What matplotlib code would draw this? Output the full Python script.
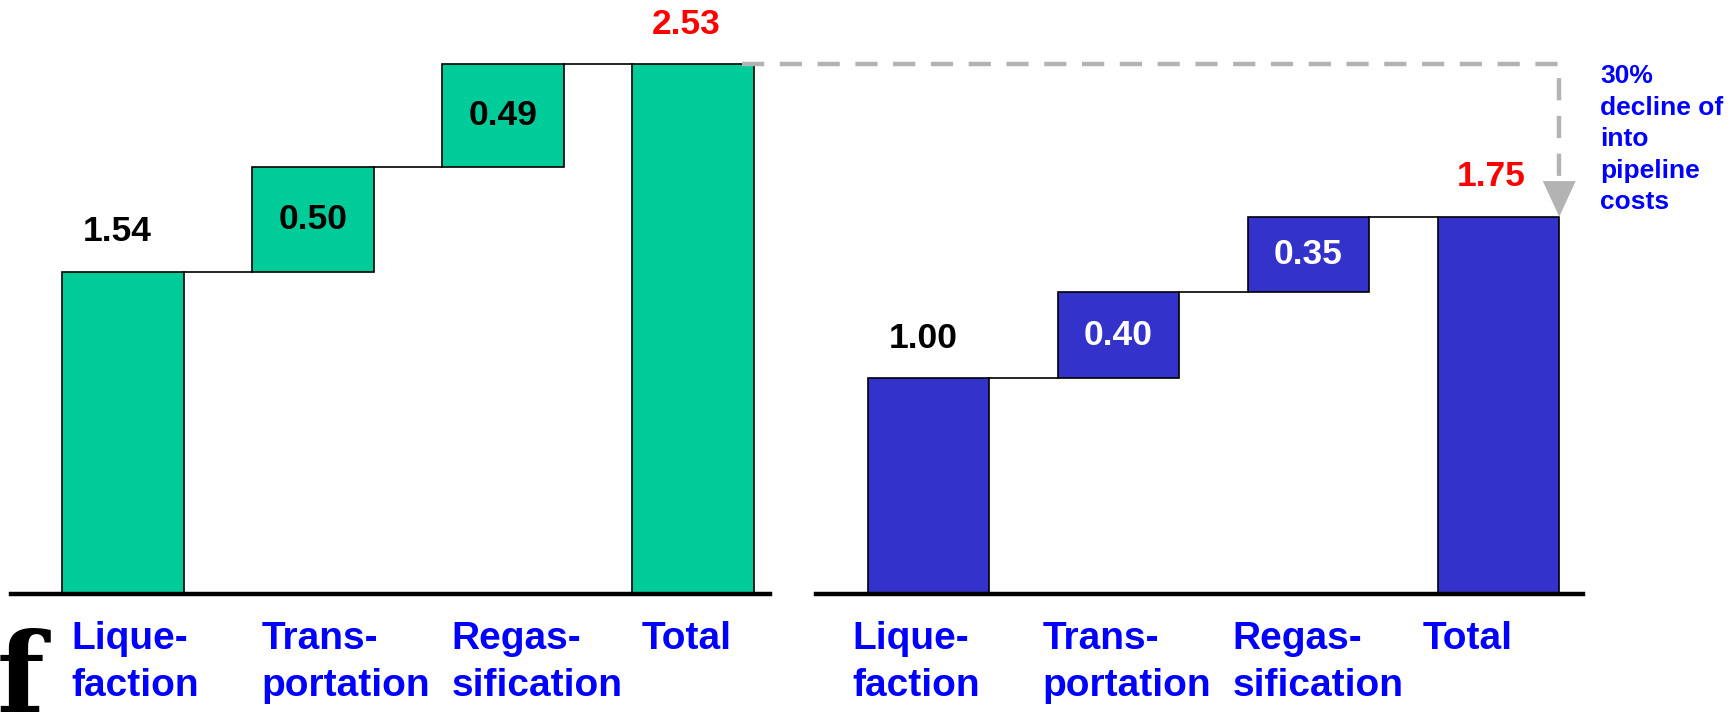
import matplotlib
matplotlib.use("Agg")
import matplotlib.pyplot as plt
from matplotlib.transforms import blended_transform_factory
from matplotlib.lines import Line2D

plt.rcParams['font.family'] = ['Liberation Sans', 'DejaVu Sans']
plt.rcParams['font.weight'] = 'bold'

# data
categories = ["Lique-\nfaction", "Trans-\nportation", "Regas-\nsification", "Total"]
lng_steps = [1.54, 0.50, 0.49]
lng_total = 2.53
pipe_steps = [1.00, 0.40, 0.35]
pipe_total = 1.75
note_text = "30%\ndecline of\ninto\npipeline\ncosts"

GREEN = "#00CC99"
BLUE = "#3333CC"
LABEL_BLUE = "#0000FF"
W = 0.64

fig = plt.figure(figsize=(17.3, 7.12), dpi=100)
FW, FH = 1730, 712


def add_panel(rect, ylim_top, steps, total, color, inner_color, xlim, label_off):
    ax = fig.add_axes(rect)
    ax.set_xlim(*xlim)
    ax.set_ylim(0, ylim_top)
    ax.axis('off')

    bottoms = [0]
    for v in steps[:-1]:
        bottoms.append(bottoms[-1] + v)
    xs = list(range(len(steps)))
    ax.bar(xs, steps, bottom=bottoms, width=W, color=color,
           edgecolor='black', linewidth=1.2, zorder=2)
    ax.bar([len(steps)], [total], width=W, color=color,
           edgecolor='black', linewidth=1.2, zorder=2)

    # connectors between steps
    tops = [b + v for b, v in zip(bottoms, steps)]
    for i, t in enumerate(tops):
        ax.plot([i + W / 2, i + 1 - W / 2], [t, t], color='black', lw=1.2, zorder=1)

    # value labels
    ax.annotate(f"{steps[0]:.2f}", (0, steps[0]), xytext=(-4, 29),
                textcoords='offset points', ha='center', va='center',
                fontsize=25.5, fontweight='bold', color='black')
    for i in range(1, len(steps)):
        ax.text(i, bottoms[i] + steps[i] / 2, f"{steps[i]:.2f}", ha='center',
                va='center', fontsize=25.5, fontweight='bold', color=inner_color, zorder=3)
    ax.annotate(f"{total:.2f}", (len(steps), total), xytext=(-5, 29),
                textcoords='offset points', ha='center', va='center',
                fontsize=25.5, fontweight='bold', color='#FF0000')

    # baseline
    ax.axhline(0, color='black', lw=3.2, zorder=4, clip_on=False)

    # category labels
    tr = blended_transform_factory(ax.transData, ax.transAxes)
    for i, lab in enumerate(categories):
        ax.text(i + label_off, -0.045, lab, transform=tr, ha='left', va='top',
                fontsize=28, fontweight='bold', color=LABEL_BLUE, linespacing=1.42)
    return ax


ax1 = add_panel([11 / FW, 118 / FH, 759 / FW, 594 / FH], 594 / 209.3,
                lng_steps, lng_total, GREEN, 'black', (-0.59, 3.405), -0.27)
ax2 = add_panel([816 / FW, 118 / FH, 767 / FW, 594 / FH], 594 / 215.6,
                pipe_steps, pipe_total, BLUE, 'white', (-0.592, 3.445), -0.40)

# dashed arrow from left total down to right total
inv = fig.transFigure.inverted()
n = len(lng_steps)
p0 = inv.transform(ax1.transData.transform((n + W / 2 - 0.06, lng_total)))
p1 = inv.transform(ax2.transData.transform((n + W / 2, pipe_total)))
head_h = 0.05
head_w = 0.0095
fig.add_artist(Line2D([p0[0], p1[0], p1[0]], [p0[1], p0[1], p1[1] + head_h],
                      transform=fig.transFigure, color='#B3B3B3', lw=3.2,
                      linestyle=(0, (5, 3.5)), solid_joinstyle='miter'))
fig.add_artist(plt.Polygon([[p1[0] - head_w, p1[1] + head_h],
                            [p1[0] + head_w, p1[1] + head_h],
                            [p1[0], p1[1]]],
                           closed=True, transform=fig.transFigure,
                           color='#B3B3B3', lw=0))

fig.text(1600 / FW, 1 - 64 / FH, note_text, ha='left', va='top', fontsize=19,
         fontweight='bold', color=LABEL_BLUE, linespacing=1.4)

# stray glyph at the bottom-left corner
fig.text(-0.002, 1 - 628 / FH, "f", ha='left', va='top', fontsize=80,
         family='DejaVu Serif', color='black')

fig.savefig("out.png", dpi=100)
